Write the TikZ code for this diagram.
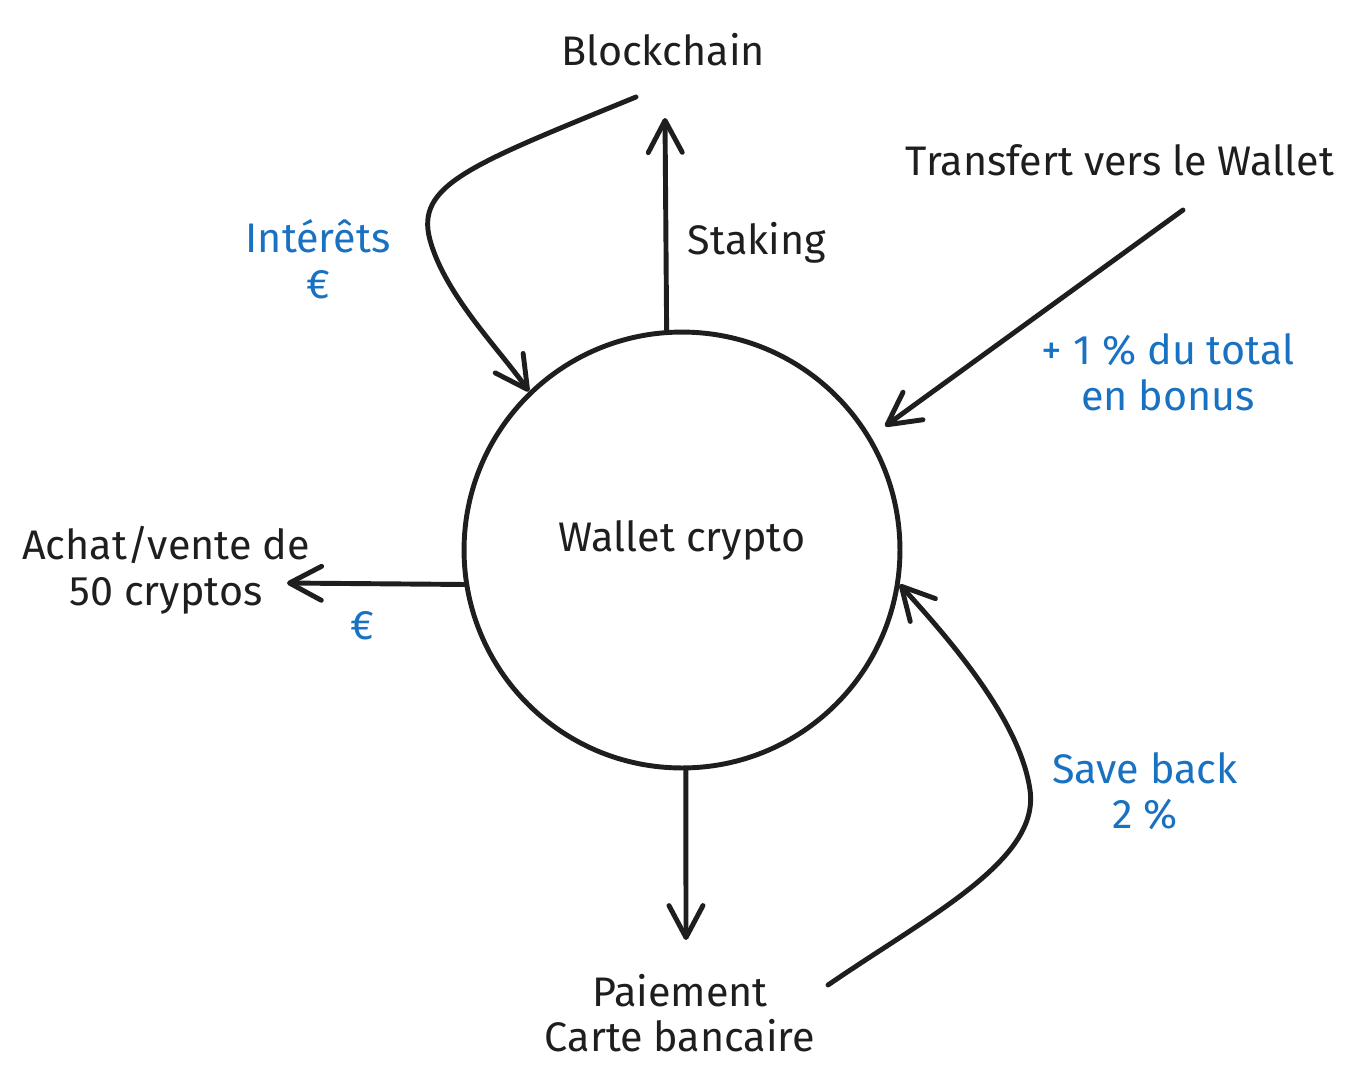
\documentclass[tikz,border=0pt]{standalone}
\usepackage{fontspec}
\setmainfont{Fira Sans}
\usetikzlibrary{arrows.meta}
\definecolor{ink}{HTML}{1E1E1E}
\definecolor{note}{HTML}{1971C2}
\tikzset{
    arr/.style={line width=2.8pt, draw=ink, line cap=round, -{Straight Barb[length=6.4mm, width=6.8mm, line cap=round, line join=round]}},
    lbl/.style={text=ink, font=\fontsize{23.5}{26}\selectfont, align=center},
    bluelbl/.style={lbl, text=note}
}

\begin{document}
\begin{tikzpicture}[x=0.02cm, y=-0.02cm]
    \useasboundingbox (0,0) rectangle (1372,1086);

    \node[circle, draw=ink, line width=2.8pt, minimum size=8.72cm, lbl] (wallet) at (682,550) {};
    \node[lbl] (wtxt) at (682,540) {Wallet crypto};

    \node[lbl] (chain) at (663,50) {Blockchain};
    \node[lbl] (stak) at (757,243) {Staking};
    \node[bluelbl] (inter) at (318,259) {Intérêts\\€};
    \node[lbl] (trans) at (1120,160) {Transfert vers le Wallet};
    \node[bluelbl] (bonus) at (1168,372) {+ 1 \% du total\\en bonus};
    \node[lbl] (achat) at (166,570) {Achat/vente de\\50 cryptos};
    \node[bluelbl] (eur) at (362,626) {€};
    \node[lbl] (pay) at (680,1013) {Paiement\\Carte bancaire};
    \node[bluelbl] (save) at (1145,791) {Save back\\2 \%};

    \coordinate (chaintip) at (665,118);
    \coordinate (chainend) at (636,97);
    \coordinate (transend) at (1183,210);
    \coordinate (achtip) at (287,583);
    \coordinate (paytip) at (686,940);
    \coordinate (payend) at (828,985);

    \draw[arr] (wallet.94) -- (chaintip);
    \draw[arr] (chainend) .. controls (470,165) and (415,185) .. (430,240)
        .. controls (445,295) and (500,350) .. (wallet.134);
    \draw[arr, shorten >=0.35cm] (transend) -- (wallet.31);
    \draw[arr] (wallet.189) -- (achtip);
    \draw[arr] (wallet.-89) -- (paytip);
    \draw[arr] (payend) .. controls (930,915) and (1040,860) .. (1030,790)
        .. controls (1020,720) and (950,640) .. (wallet.-9);
\end{tikzpicture}
\end{document}
